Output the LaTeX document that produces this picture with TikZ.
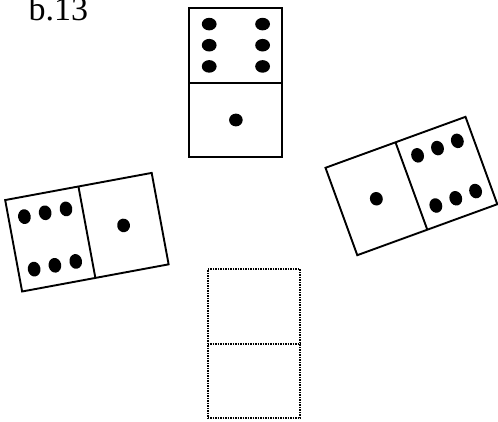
\documentclass[tikz,border=0pt]{standalone}
\usepackage{fontspec}
\setmainfont{Liberation Serif}
\tikzset{
  dominobox/.style={draw=black, line width=1.9pt},
  dotbox/.style={draw=black, line width=1.9pt, dash pattern=on 1.5pt off 1pt},
  pip/.style={fill=black},
  pics/domino/.style={code={
    \draw[dominobox] (-74.5,-46.5) rectangle (74.5,46.5);
    \draw[dominobox] (0,-46.5) -- (0,46.5);
    \foreach \px in {-58.6,-37.5,-16.3}{
      \foreach \py in {-26.7,26.7}{
        \fill[pip] (\px,\py) ellipse[x radius=6.3, y radius=7.4];
      }
    }
    \fill[pip] (37.3,0) ellipse[x radius=6.4, y radius=6.8];
  }},
  pics/blankdomino/.style={code={
    \draw[dotbox] (-74.5,-46.3) rectangle (74.5,46.3);
    \draw[dotbox] (0,-46.3) -- (0,46.3);
  }}
}
\begin{document}
\begin{tikzpicture}[x=1pt,y=-1pt]
  \useasboundingbox (0,0) rectangle (498,421);
  \clip (0,0) rectangle (498,421);
  \node[anchor=base west, inner sep=0pt, font=\fontsize{34}{34}\selectfont] (title) at (28.5,20.7) {b.13};
  \pic at (235.9,82.7) [rotate=-90] {domino};
  \pic at (86.9,232.2) [rotate=10.5] {domino};
  \pic at (411.4,186) [rotate=200] {domino};
  \pic at (254,343.7) [rotate=90] {blankdomino};
\end{tikzpicture}
\end{document}
